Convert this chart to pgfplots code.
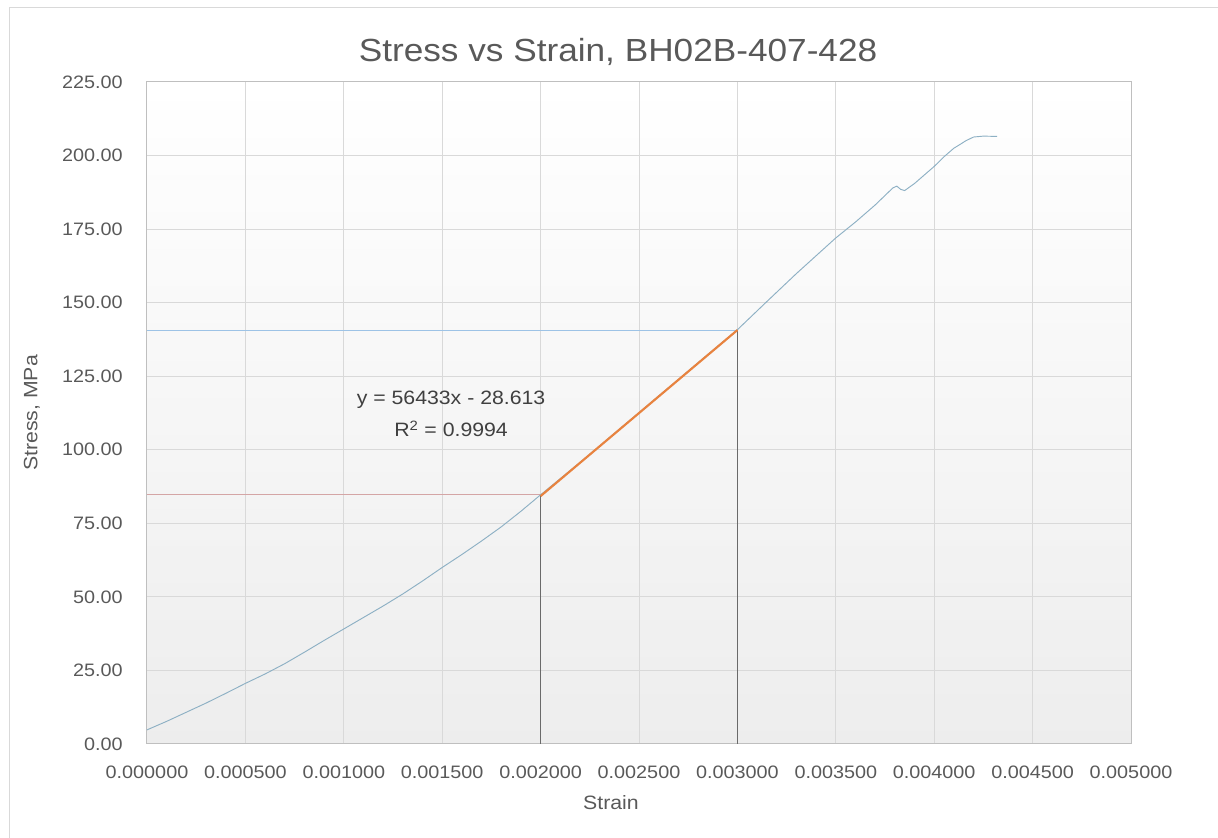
\documentclass[border=0pt]{standalone}
\usepackage{pgfplots}
\pgfplotsset{compat=1.18}
\usepackage{fontspec}
\setmainfont[FakeStretch=1.1]{Liberation Sans}
\definecolor{txt}{HTML}{595959}
\definecolor{gridc}{HTML}{D9D9D9}
\definecolor{curve}{HTML}{8DB0C4}
\definecolor{orangeT}{HTML}{E8833F}
\definecolor{hblue}{HTML}{9DC3E6}
\definecolor{hred}{HTML}{D4A5A5}
\definecolor{vgray}{HTML}{6A6A6A}
\begin{document}
\begin{tikzpicture}
\begin{axis}[
  at={(0,0)}, anchor=south west,
  scale only axis, width=738pt, height=496.5pt,
  xmin=0, xmax=0.005, ymin=0, ymax=225,
  xtick={0,0.0005,0.001,0.0015,0.002,0.0025,0.003,0.0035,0.004,0.0045,0.005},
  ytick={0,25,50,75,100,125,150,175,200,225},
  scaled x ticks=false, scaled y ticks=false,
  grid=major, grid style={gridc, line width=0.75pt},
  major tick length=0pt,
  axis line style={draw=black!25, line width=0.75pt},
  axis background/.style={top color=white, middle color=white, bottom color=black!7},
  /pgf/number format/assume math mode=true,
  tick label style={font=\fontsize{13.5}{16}\selectfont, text=txt, inner sep=0pt},
  xticklabel style={/pgf/number format/.cd, fixed, fixed zerofill, precision=6, /tikz/.cd, anchor=base, yshift=-26.25pt},
  yticklabel style={/pgf/number format/.cd, fixed, fixed zerofill, precision=2, /tikz/.cd, anchor=east, xshift=-18pt},
  xlabel={Strain},
  xlabel style={at={(axis description cs:0.4715,-0.089)}, anchor=center, font=\fontsize{14.5}{17}\selectfont, text=txt},
  ylabel={Stress, MPa},
  ylabel style={at={(axis description cs:-0.117,0.5)}, anchor=center, font=\fontsize{14.5}{17}\selectfont, text=txt},
  title={Stress vs Strain, BH02B-407-428},
  title style={at={(axis description cs:0.4787,1.033)}, anchor=center, font=\fontsize{24}{28}\selectfont, text=txt},
]
\addplot[hblue, line width=0.75pt] coordinates {(0,140.7) (0.003,140.7)};
\addplot[hred, line width=0.75pt] coordinates {(0,84.7) (0.002,84.7)};
\addplot[vgray, line width=0.75pt] coordinates {(0.003,0) (0.003,140.7)};
\addplot[vgray, line width=0.75pt] coordinates {(0.002,0) (0.002,84.7)};
\addplot[curve, line width=0.7pt] table {
x y
0.0000 4.8
0.0001 7.7
0.0002 10.8
0.0003 13.9
0.0004 17.2
0.0005 20.6
0.0006 23.8
0.0007 27.3
0.0008 31.2
0.0009 35.2
0.0010 39.1
0.0011 43.0
0.0012 46.9
0.0013 51.0
0.0014 55.4
0.0015 60.0
0.0016 64.4
0.0017 69.0
0.0018 73.8
0.0019 79.1
0.0020 84.7
0.0021 90.2
0.0022 95.7
0.0023 101.3
0.0024 107.0
0.0025 112.6
0.0026 118.3
0.0027 123.9
0.0028 129.6
0.0029 135.2
0.0030 140.8
0.00315 150.4
0.0033 159.9
0.0035 172.0
0.0036 177.4
0.0037 183.2
0.00379 189.0
0.00381 189.6
0.00383 188.5
0.00385 188.1
0.0039 190.5
0.0040 196.3
0.00405 199.6
0.00410 202.5
0.004132 203.8
0.00416 205.0
0.00420 206.3
0.00425 206.6
0.00432 206.5
};
\addplot[orangeT, line width=1.6pt] coordinates {(0.002,84.253) (0.003,140.686)};
\node[text=black!75, font=\fontsize{14.5}{17}\selectfont] at (axis cs:0.001545,116.9) {y = 56433x - 28.613};
\node[text=black!75, font=\fontsize{14.5}{17}\selectfont] at (axis cs:0.001545,107.1) {R\textsuperscript{2} = 0.9994};
\end{axis}
\useasboundingbox (-110.25pt,-70.5pt) rectangle (803.25pt,558pt);
\draw[black!15, line width=0.75pt] (-102.75pt,-80pt) -- (-102.75pt,552pt) -- (815pt,552pt);
\end{tikzpicture}
\end{document}
